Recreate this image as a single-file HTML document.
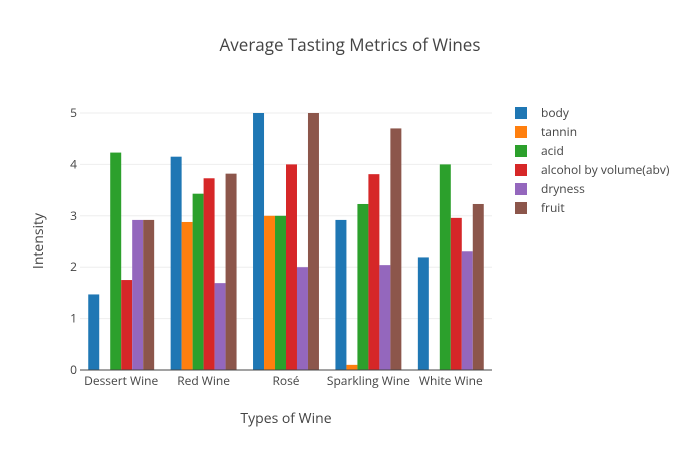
<!DOCTYPE html>
<html><head><meta charset="utf-8"><style>
body{margin:0;background:#fff;font-family:"Liberation Sans",sans-serif}
svg text{font-family:"Open Sans","Liberation Sans",sans-serif}
</style></head><body>
<svg id="c" width="700" height="450" xmlns="http://www.w3.org/2000/svg">
<text x="350" y="51" text-anchor="middle" font-size="17" fill="#444">Average Tasting Metrics of Wines</text>
<g id="grid"></g><g id="bars"></g><g id="axes"></g><g id="legend"></g>
<text x="286" y="423" text-anchor="middle" font-size="14" fill="#444">Types of Wine</text>
<text x="43" y="241" text-anchor="middle" font-size="14" fill="#444" transform="rotate(-90 43 241)">Intensity</text>
</svg>
<script>
const categories=["Dessert Wine","Red Wine","Rosé","Sparkling Wine","White Wine"];
const seriesNames=["body","tannin","acid","alcohol by volume(abv)","dryness","fruit"];
const body=[1.47,4.15,5,2.92,2.19];
const tannin=[0,2.88,3,0.1,0];
const acid=[4.23,3.43,3,3.23,4];
const abv=[1.75,3.73,4,3.81,2.96];
const dryness=[2.92,1.69,2,2.04,2.31];
const fruit=[2.92,3.82,5,4.7,3.23];
const yTicks=[0,1,2,3,4,5];
const series=[body,tannin,acid,abv,dryness,fruit];
const colors=["#1f77b4","#ff7f0e","#2ca02c","#d62728","#9467bd","#8c564b"];
const NS="http://www.w3.org/2000/svg";
const L=80,R=492,T=113,B=370,yMax=5;
const y=v=>B-(v/yMax)*(B-T);
const bw=(R-L)/categories.length;
const x=i=>L+bw*(i+0.5);
function mk(t,a,p){const e=document.createElementNS(NS,t);for(const k in a)e.setAttribute(k,a[k]);p.appendChild(e);return e;}
const g=document.getElementById('grid'),ba=document.getElementById('bars'),ax=document.getElementById('axes'),lg=document.getElementById('legend');
yTicks.forEach(t=>{
 if(t>0){const l=mk('line',{x1:L,x2:R,y1:y(t),y2:y(t),stroke:'#eee'},g);
 
 }
 const tx=mk('text',{x:L-3,y:y(t)+4,'text-anchor':'end','font-size':12,fill:'#444'},ax);tx.textContent=t;
 
 
});
const gw=bw*0.8,sw=gw/series.length;
series.forEach((s,j)=>s.forEach((v,i)=>{
 const x0=x(i)-gw/2+j*sw;
 const r=mk('rect',{x:x0,y:y(v),width:sw,height:B-y(v),fill:colors[j]},ba);
 
 
}));
const al=mk('line',{x1:L,x2:R,y1:B,y2:B,stroke:'#444'},ax);


categories.forEach((c,i)=>{
 const tx=mk('text',{x:x(i),y:B+15,'text-anchor':'middle','font-size':12,fill:'#444'},ax);tx.textContent=c;
 
 
});
seriesNames.forEach((n,j)=>{
 const yy=113+j*19;
 const r=mk('rect',{x:515,y:yy-6,width:12,height:12,fill:colors[j]},lg);
 
 
 const tx=mk('text',{x:541,y:yy+4,'font-size':12,fill:'#444'},lg);tx.textContent=n;
 
 
});
</script>
</body></html>
